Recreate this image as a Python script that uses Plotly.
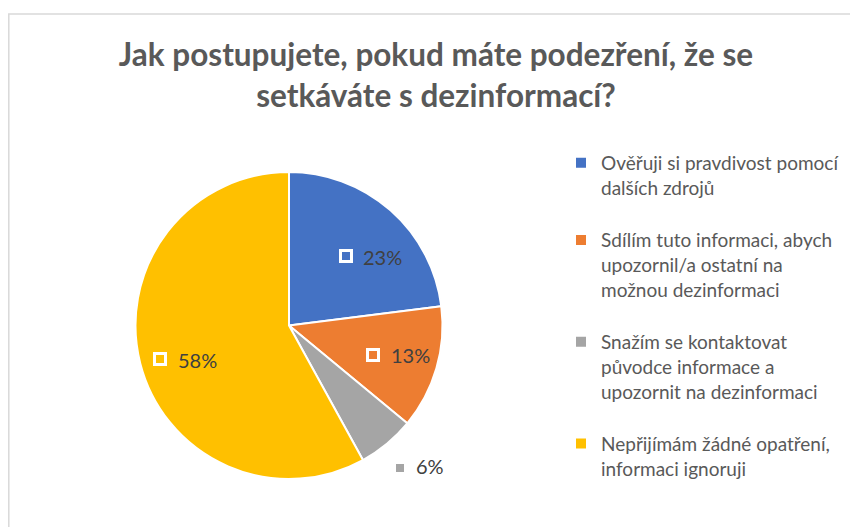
import plotly.graph_objects as go

title = "Jak postupujete, pokud máte podezření, že se<br>setkáváte s dezinformací?"
categories = [
    "Ověřuji si pravdivost pomocí<br>dalších zdrojů<br> ",
    "Sdílím tuto informaci, abych<br>upozornil/a ostatní na<br>možnou dezinformaci<br> ",
    "Snažím se kontaktovat<br>původce informace a<br>upozornit na dezinformaci<br> ",
    "Nepřijímám žádné opatření,<br>informaci ignoruji",
]
values = [23, 13, 6, 58]
label_texts = ["23%", "13%", "6%", "58%"]
colors = ["#4472C4", "#ED7D31", "#A5A5A5", "#FFC000"]

W, H = 858, 527
OFF = 8  # page body margin offset
FONT = "Lato, 'Open Sans', sans-serif"


def px(x):
    return (x - OFF) / W


def py(y):
    return 1 - (y - OFF) / H


fig = go.Figure()
fig.add_trace(go.Pie(
    labels=categories,
    values=values,
    sort=False,
    direction="clockwise",
    rotation=0,
    marker=dict(colors=colors, line=dict(color="white", width=2)),
    textinfo="none",
    hoverinfo="label+percent",
    domain=dict(x=[(281 - 153.5) / W, (281 + 153.5) / W],
                y=[(H - 317.5 - 153.5) / H, (H - 317.5 + 153.5) / H]),
    showlegend=True,
))

# data labels (legend key square + value)
label_pos = [(382, 257), (410, 355), (430, 466), (197, 360)]
key_pos = [(346, 256), (373, 355), (400, 468), (160, 359)]
annotations = []
for i, (t, (lx, ly), (kx, ky)) in enumerate(zip(label_texts, label_pos, key_pos)):
    annotations.append(dict(
        x=px(lx), y=py(ly), xref="paper", yref="paper",
        text=t, showarrow=False, xanchor="center", yanchor="middle",
        font=dict(family=FONT, size=20, color="#404040"),
    ))
    inside = i != 2
    annotations.append(dict(
        x=px(kx), y=py(ky), xref="paper", yref="paper",
        text=" ", showarrow=False, xanchor="center", yanchor="middle",
        width=8 if inside else 8, height=8 if inside else 8,
        bgcolor=colors[i], bordercolor="white" if inside else colors[i],
        borderwidth=3 if inside else 0, borderpad=0,
        font=dict(size=2),
    ))

fig.update_layout(
    width=W, height=H,
    margin=dict(l=0, r=0, t=0, b=0),
    paper_bgcolor="white",
    plot_bgcolor="white",
    title=dict(
        text=title, x=px(436), xanchor="center", y=1 - 58 / H, yanchor="top",
        font=dict(family=FONT, size=31.5, color="#595959", weight="bold"),
    ),
    legend=dict(
        x=px(561), y=1 - 136 / H, xanchor="left", yanchor="top",
        font=dict(family=FONT, size=19, color="#595959"),
        valign="top", itemsizing="constant", tracegroupgap=0,
        bgcolor="rgba(0,0,0,0)",
    ),
    annotations=annotations,
    shapes=[dict(
        type="rect", xref="paper", yref="paper",
        x0=0.8 / W, x1=1.02, y0=-0.02, y1=py(14),
        line=dict(color="#D9D9D9", width=1.5), fillcolor="rgba(0,0,0,0)",
        layer="below",
    )],
)

fig.write_html("out.html")
